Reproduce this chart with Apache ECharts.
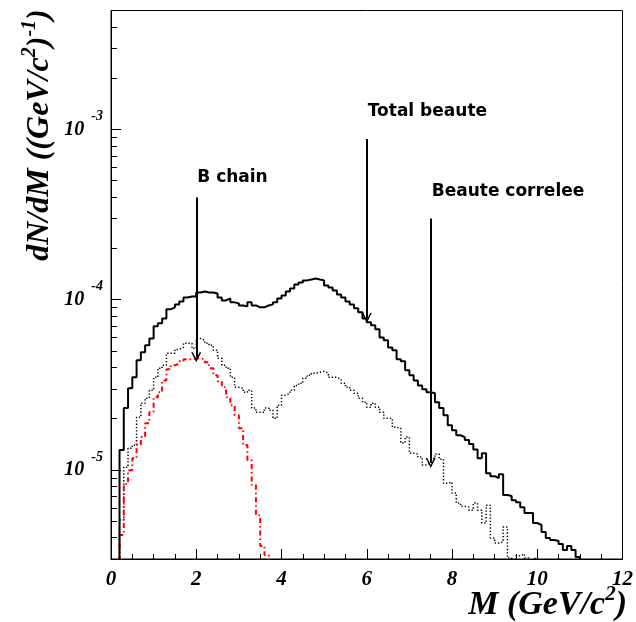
<!DOCTYPE html>
<html><head><meta charset="utf-8">
<script src="https://cdn.jsdelivr.net/npm/echarts@6/dist/echarts.min.js"></script>
<style>html,body{margin:0;padding:0;background:#fff}#c{width:636px;height:622px}</style>
</head><body><div id="c"></div>
<script>
// Histogram bins of width 0.1 GeV/c^2, first bin starts at M = 0.
// Entries of 1e-6 are bins below the visible range (axis starts at 3e-6).
const BIN_WIDTH = 0.1;

const totalBeaute = [
  1e-6, 1e-6, 1.31e-5, 2.31e-5, 3.02e-5, 3.50e-5, 4.41e-5, 4.91e-5, 5.40e-5, 5.93e-5,
  6.98e-5, 7.27e-5, 7.77e-5, 8.78e-5, 9.02e-5, 9.39e-5, 9.78e-5, 1.032e-4, 1.046e-4, 1.046e-4,
  1.104e-4, 1.119e-4, 1.104e-4, 1.104e-4, 1.089e-4, 1.032e-4, 9.91e-5, 1.018e-4, 9.65e-5, 9.52e-5,
  9.26e-5, 9.14e-5, 9.65e-5, 9.26e-5, 9.02e-5, 9.02e-5, 9.26e-5, 9.39e-5, 9.65e-5, 1.018e-4,
  1.060e-4, 1.119e-4, 1.166e-4, 1.230e-4, 1.264e-4, 1.299e-4, 1.316e-4, 1.334e-4, 1.316e-4, 1.299e-4,
  1.214e-4, 1.181e-4, 1.135e-4, 1.075e-4, 1.032e-4, 9.78e-5, 9.39e-5, 8.90e-5, 8.43e-5, 7.77e-5,
  7.37e-5, 7.07e-5, 6.70e-5, 6.01e-5, 5.78e-5, 5.25e-5, 5.05e-5, 4.47e-5, 4.35e-5, 3.85e-5,
  3.60e-5, 3.36e-5, 3.14e-5, 2.98e-5, 2.86e-5, 2.82e-5, 2.50e-5, 2.31e-5, 2.10e-5, 1.83e-5,
  1.71e-5, 1.60e-5, 1.56e-5, 1.50e-5, 1.42e-5, 1.32e-5, 1.17e-5, 1.255e-5, 9.58e-6, 9.20e-6,
  8.96e-6, 9.45e-6, 7.12e-6, 7.03e-6, 6.65e-6, 6.47e-6, 6.05e-6, 5.58e-6, 5.58e-6, 4.88e-6,
  4.75e-6, 4.32e-6, 3.99e-6, 3.88e-6, 3.83e-6, 3.68e-6, 3.39e-6, 3.58e-6, 3.39e-6, 3.08e-6,
  1e-6
];

const beauteCorrelee = [
  1e-6, 1e-6, 5.08e-6, 1.039e-5, 1.343e-5, 1.398e-5, 2.04e-5, 2.47e-5, 2.64e-5, 2.94e-5,
  3.50e-5, 3.96e-5, 4.12e-5, 4.85e-5, 4.85e-5, 5.11e-5, 5.25e-5, 5.55e-5, 5.55e-5, 5.18e-5,
  5.93e-5, 5.78e-5, 5.55e-5, 5.40e-5, 5.05e-5, 4.53e-5, 4.12e-5, 3.96e-5, 3.50e-5, 3.06e-5,
  3.02e-5, 2.86e-5, 2.94e-5, 2.31e-5, 2.18e-5, 2.18e-5, 2.31e-5, 2.24e-5, 2.01e-5, 2.40e-5,
  2.75e-5, 2.82e-5, 2.94e-5, 3.14e-5, 3.23e-5, 3.46e-5, 3.60e-5, 3.70e-5, 3.75e-5, 3.80e-5,
  3.70e-5, 3.50e-5, 3.50e-5, 3.41e-5, 3.23e-5, 3.06e-5, 2.94e-5, 2.82e-5, 2.64e-5, 2.50e-5,
  2.34e-5, 2.47e-5, 2.34e-5, 2.18e-5, 2.01e-5, 2.01e-5, 1.78e-5, 1.76e-5, 1.44e-5, 1.56e-5,
  1.255e-5, 1.24e-5, 1.19e-5, 1.068e-5, 1.097e-5, 1.17e-5, 1.24e-5, 1.158e-5, 8.37e-6, 8.49e-6,
  7.32e-6, 6.39e-6, 6.13e-6, 6.05e-6, 5.81e-6, 6.39e-6, 5.81e-6, 4.88e-6, 6.21e-6, 3.99e-6,
  3.73e-6, 3.78e-6, 4.62e-6, 3.04e-6, 2.9e-6, 3.13e-6, 3.21e-6, 3.04e-6, 2.9e-6, 3.02e-6,
  1e-6
];

const bChain = [
  1e-6, 1e-6, 4.15e-6, 8.26e-6, 9.98e-6, 1.17e-5, 1.40e-5, 1.56e-5, 1.88e-5, 2.18e-5,
  2.67e-5, 2.86e-5, 3.36e-5, 3.90e-5, 4.12e-5, 4.23e-5, 4.35e-5, 4.47e-5, 4.47e-5, 4.53e-5,
  4.53e-5, 4.47e-5, 4.29e-5, 3.96e-5, 3.60e-5, 3.32e-5, 3.06e-5, 2.67e-5, 2.40e-5, 2.10e-5,
  1.76e-5, 1.40e-5, 1.14e-5, 8.15e-6, 5.43e-6, 3.58e-6, 3.17e-6, 1e-6
];

const xTickValues = [0, 2, 4, 6, 8, 10, 12];
const yMajorTicks = [1e-5, 1e-4, 1e-3];
const yMinorTicks = [4e-6, 5e-6, 6e-6, 7e-6, 8e-6, 9e-6,
  2e-5, 3e-5, 4e-5, 5e-5, 6e-5, 7e-5, 8e-5, 9e-5,
  2e-4, 3e-4, 4e-4, 5e-4, 6e-4, 7e-4, 8e-4, 9e-4,
  2e-3, 3e-3, 4e-3];

const arrowLabels = ['B chain', 'Total beaute', 'Beaute correlee'];
const arrowM      = [2.0, 6.0, 7.5];
const arrowFrom   = [3.98e-4, 8.8e-4, 3.0e-4];
const arrowTo     = [4.6e-5, 7.8e-5, 1.1e-5];

const Y_MIN = 3e-6, Y_MAX = 5e-3, X_MIN = 0, X_MAX = 12;

function toSteps(vals) {
  const pts = vals.map((v, i) => [+(i * BIN_WIDTH).toFixed(2), v]);
  pts.push([+(vals.length * BIN_WIDTH).toFixed(2), vals[vals.length - 1]]);
  return pts;
}

const SERIF = "'Liberation Serif', 'DejaVu Serif', serif";
const tickRich = {
  b: { fontFamily: SERIF, fontStyle: 'italic', fontWeight: 'bold', fontSize: 20, color: '#000', lineHeight: 30, verticalAlign: 'bottom' },
  s: { fontFamily: SERIF, fontStyle: 'italic', fontWeight: 'bold', fontSize: 14, color: '#000', lineHeight: 30, verticalAlign: 'top', padding: [0, 0, 0, 7] }
};

const chart = echarts.init(document.getElementById('c'), null, { renderer: 'canvas' });

const arrowSymbol = 'path://M5 0 L10 10 L8.4 10 L5 3.2 L1.6 10 L0 10 Z';

const option = {
  animation: false,
  backgroundColor: '#fff',
  grid: { left: 111, right: 10, top: 10.5, bottom: 63, show: true, borderColor: '#000', borderWidth: 1, backgroundColor: 'transparent' },
  xAxis: {
    type: 'value', min: X_MIN, max: X_MAX, interval: 2,
    axisLine: { show: true, onZero: false, lineStyle: { color: '#000', width: 1 } },
    axisTick: { show: true, inside: true, length: 10, lineStyle: { color: '#000', width: 1 } },
    minorTick: { show: true, splitNumber: 4, length: 5, lineStyle: { color: '#000', width: 1 } },
    splitLine: { show: false },
    axisLabel: {
      color: '#000', fontFamily: SERIF, fontStyle: 'italic', fontWeight: 'bold', fontSize: 21, margin: 10,
      formatter: v => xTickValues.includes(v) ? String(v) : ''
    }
  },
  yAxis: [
    {
      type: 'log', logBase: 10, min: Y_MIN, max: Y_MAX,
      axisLine: { show: true, onZero: false, lineStyle: { color: '#000', width: 1 } },
      axisTick: { show: true, inside: true, length: 10, customValues: yMajorTicks, lineStyle: { color: '#000', width: 1 } },
      splitLine: { show: false },
      axisLabel: {
        customValues: yMajorTicks,
        margin: 8,
        padding: [0, 0, 10, 0],
        rich: tickRich,
        formatter: v => {
          const e = Math.log10(v);
          const r = Math.round(e);
          if (Math.abs(e - r) > 1e-6) return '';
          return '{b|10}{s|' + r + '}';
        }
      }
    },
    {
      type: 'log', logBase: 10, min: Y_MIN, max: Y_MAX, position: 'left',
      axisLine: { show: false },
      axisTick: { show: true, inside: true, length: 6, customValues: yMinorTicks, lineStyle: { color: '#000', width: 1 } },
      splitLine: { show: false },
      axisLabel: { show: false }
    }
  ],
  series: [
    {
      name: 'Total beaute', type: 'line', step: 'end', symbol: 'none', clip: true,
      data: toSteps(totalBeaute), yAxisIndex: 0,
      lineStyle: { color: '#000', width: 2 },
      z: 3,
      markLine: {
        silent: true, symbol: ['none', arrowSymbol], symbolSize: 10,
        lineStyle: { color: '#000', width: 2, type: 'solid' },
        label: { show: false },
        emphasis: { disabled: true },
        data: arrowM.map((m, i) => [{ coord: [m, arrowFrom[i]] }, { coord: [m, arrowTo[i]] }])
      }
    },
    {
      name: 'Beaute correlee', type: 'line', step: 'end', symbol: 'none', clip: true,
      data: toSteps(beauteCorrelee), yAxisIndex: 0,
      lineStyle: { color: '#000', width: 1.5, type: [1.3, 2] },
      z: 2
    },
    {
      name: 'B chain', type: 'line', step: 'end', symbol: 'none', clip: true,
      data: toSteps(bChain), yAxisIndex: 0,
      lineStyle: { color: '#ff0000', width: 2, type: [5, 3, 1.5, 3] },
      z: 2
    }
  ]
};
chart.setOption(option);

function titleRich(size) {
  const sup = Math.round(size * 0.62);
  return {
    b: { fontFamily: SERIF, fontStyle: 'italic', fontWeight: 'bold', fontSize: size, color: '#000', lineHeight: size + 4, verticalAlign: 'bottom' },
    s: { fontFamily: SERIF, fontStyle: 'italic', fontWeight: 'bold', fontSize: sup, color: '#000', lineHeight: size + 4, verticalAlign: 'top' }
  };
}

const graphics = [
  {
    type: 'text', x: 38, y: 135, rotation: Math.PI / 2,
    style: {
      text: '{b|dN/dM ((GeV/c}{s|2}{b|)}{s|-1}{b|)}', rich: titleRich(32),
      align: 'center', verticalAlign: 'middle', textAlign: 'center', textVerticalAlign: 'middle'
    }
  },
  {
    type: 'text', x: 627, y: 603,
    style: {
      text: '{b|M (GeV/c}{s|2}{b|)}', rich: titleRich(34),
      align: 'right', verticalAlign: 'middle', textAlign: 'right', textVerticalAlign: 'middle'
    }
  }
];
const labelGap = [20, 27, 27];
arrowM.forEach((m, i) => {
  const p = chart.convertToPixel({ gridIndex: 0 }, [m, arrowFrom[i]]);
  graphics.push({
    type: 'text', x: p[0] + 1, y: p[1] - labelGap[i],
    style: {
      text: arrowLabels[i], fill: '#000',
      font: "bold 17px 'DejaVu Sans', sans-serif",
      align: 'left', verticalAlign: 'middle', textAlign: 'left', textVerticalAlign: 'middle'
    }
  });
});
chart.setOption({ graphic: graphics });
</script>
</body></html>
